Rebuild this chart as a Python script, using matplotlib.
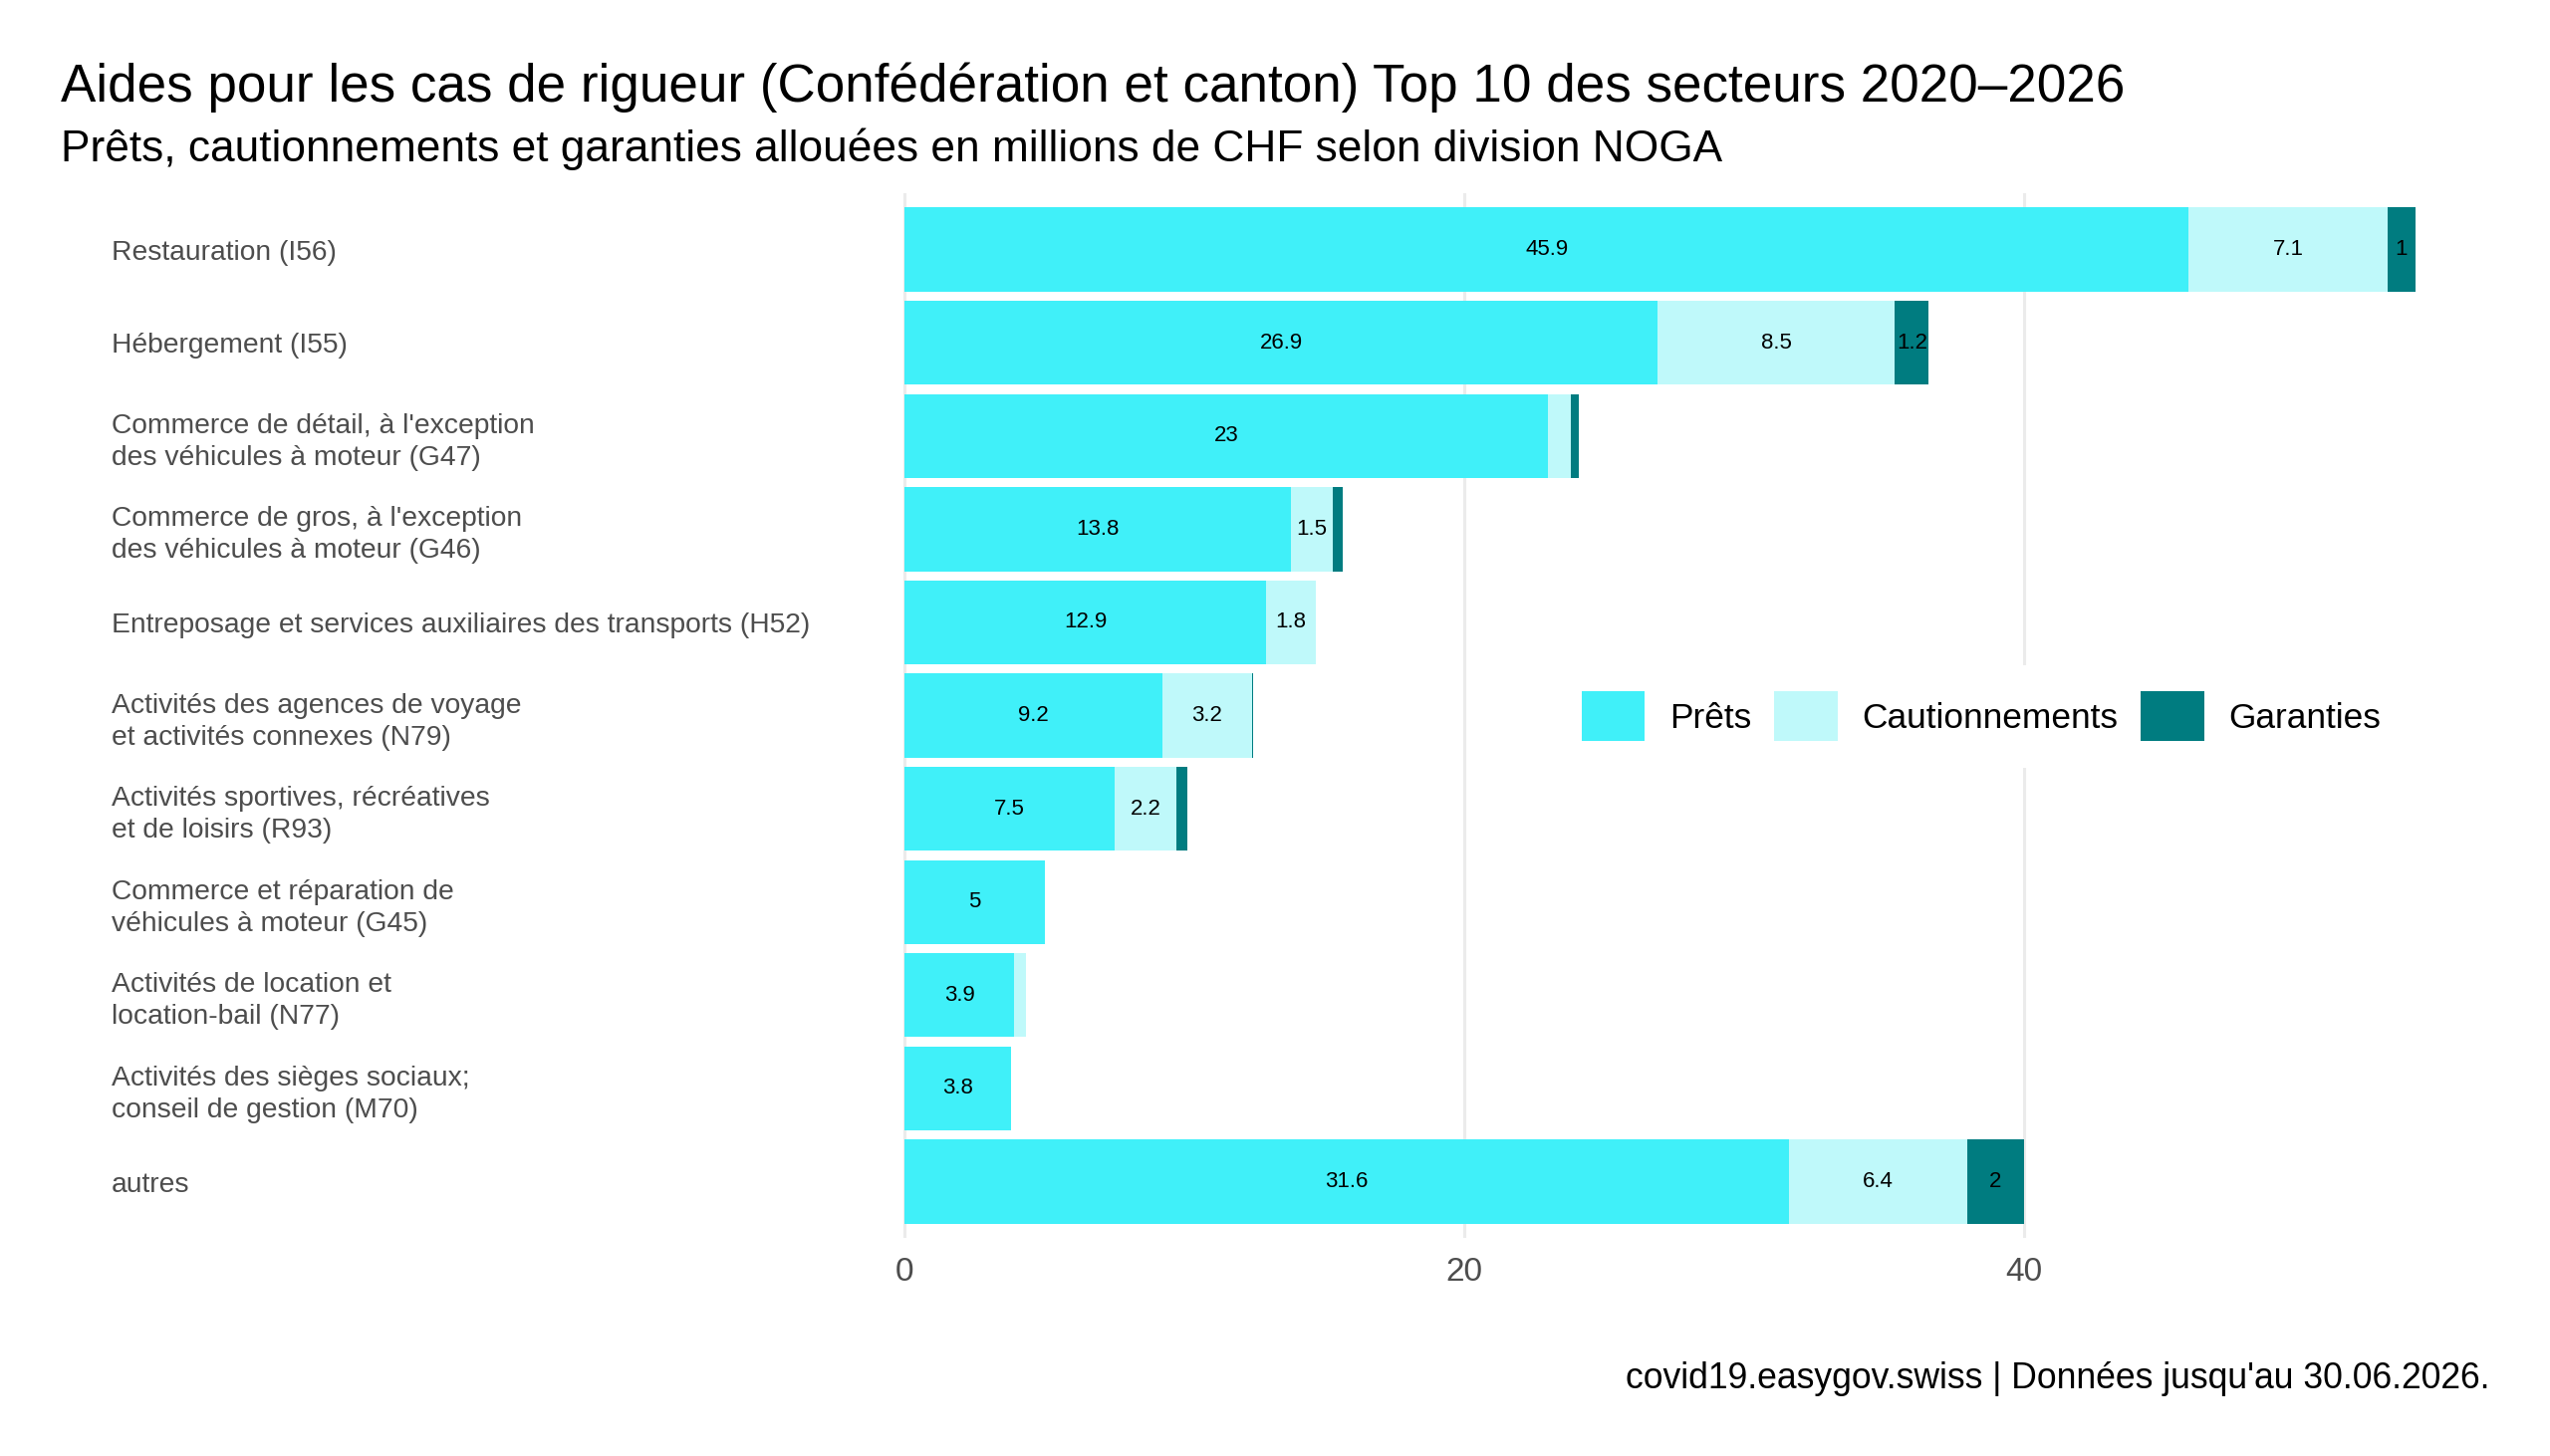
import numpy as np
import matplotlib
matplotlib.use("Agg")
import matplotlib.pyplot as plt

plt.rcParams['font.family'] = ['Liberation Sans', 'DejaVu Sans']

# data (millions CHF)
secteurs = [
    "Restauration (I56)",
    "Hébergement (I55)",
    "Commerce de détail, à l'exception\ndes véhicules à moteur (G47)",
    "Commerce de gros, à l'exception\ndes véhicules à moteur (G46)",
    "Entreposage et services auxiliaires des transports (H52)",
    "Activités des agences de voyage\net activités connexes (N79)",
    "Activités sportives, récréatives\net de loisirs (R93)",
    "Commerce et réparation de\nvéhicules à moteur (G45)",
    "Activités de location et\nlocation-bail (N77)",
    "Activités des sièges sociaux;\nconseil de gestion (M70)",
    "autres",
]
prets = [45.9, 26.9, 23.0, 13.8, 12.9, 9.2, 7.5, 5.0, 3.9, 3.8, 31.6]
cautionnements = [7.1, 8.5, 0.8, 1.5, 1.8, 3.2, 2.2, 0.0, 0.45, 0.0, 6.4]
garanties = [1.0, 1.2, 0.3, 0.35, 0.0, 0.05, 0.4, 0.0, 0.0, 0.0, 2.0]

series = ["Prêts", "Cautionnements", "Garanties"]
couleurs = ["#40F0F9", "#BFF9FA", "#007C80"]
xticks = [0, 20, 40]

fig = plt.figure(figsize=(25.6, 14.62), dpi=100)
ax = fig.add_axes([0.3252, 0.150, 0.6516, 0.717])

y = np.arange(len(secteurs))
left = np.zeros(len(secteurs))
handles = []
for vals, name, col in zip([prets, cautionnements, garanties], series, couleurs):
    vals = np.array(vals)
    h = ax.barh(y, vals, left=left, height=0.9, color=col, label=name, zorder=2)
    handles.append(h)
    for yi, (l, v) in enumerate(zip(left, vals)):
        if v >= 1:
            ax.text(l + v / 2, yi, f"{v:g}", ha='center', va='center',
                    fontsize=16, color='black', zorder=3)
    left = left + vals

ax.set_xlim(-2.7, 56.7)
ax.set_ylim(10.6, -0.6)
ax.set_xticks(xticks)
ax.set_xticklabels([str(t) for t in xticks])
ax.set_yticks(y)
ax.set_yticklabels(secteurs, linespacing=1.3)
for lab in ax.get_yticklabels():
    lab.set_horizontalalignment('left')
ax.tick_params(axis='y', length=0, pad=519, labelsize=20.3, labelcolor='#4D4D4D')
ax.tick_params(axis='x', length=0, pad=14, labelsize=24, labelcolor='#4D4D4D')
for t in xticks:
    ax.axvline(t, color='#EBEBEB', linewidth=2.2, zorder=1)
for s in ax.spines.values():
    s.set_visible(False)

leg = fig.legend(handles=handles, labels=series, loc='center',
                 bbox_to_anchor=(0.777, 0.508), ncol=3, fontsize=25.4,
                 frameon=True, facecolor='white', edgecolor='none', framealpha=1,
                 handlelength=1.8, handleheight=1.8, handletextpad=0.7,
                 columnspacing=0.65, borderpad=0.75)

fig.text(0.0238, 0.930, "Aides pour les cas de rigueur (Confédération et canton) Top 10 des secteurs 2020–2026",
         fontsize=38.2, ha='left', va='baseline')
fig.text(0.0238, 0.889, "Prêts, cautionnements et garanties allouées en millions de CHF selon division NOGA",
         fontsize=31.9, ha='left', va='baseline')
fig.text(0.9765, 0.0465, "covid19.easygov.swiss | Données jusqu'au 30.06.2026.",
         fontsize=25.6, ha='right', va='baseline')

fig.savefig("out.png", dpi=100, facecolor='white')
